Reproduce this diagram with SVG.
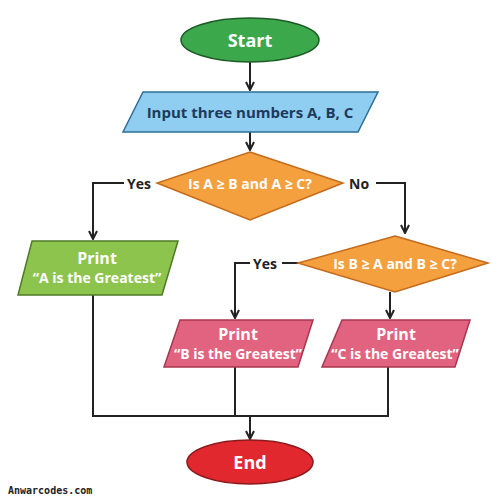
<svg xmlns="http://www.w3.org/2000/svg" width="500" height="500" viewBox="0 0 500 500">
<defs>
<marker id="arr" viewBox="0 0 10 10" refX="9" refY="5" markerWidth="10" markerHeight="10" markerUnits="userSpaceOnUse" orient="auto">
<path d="M1,1 L9,5 L1,9" fill="none" stroke="#222" stroke-width="2"/>
</marker>
<style>
.t{font-family:"Open Sans","Noto Sans","Liberation Sans",sans-serif;font-weight:700;text-anchor:middle;dominant-baseline:central}
.w{fill:#fff}
.ln{fill:none;stroke:#222;stroke-width:2}
.lbl{font-family:"Open Sans","Noto Sans","Liberation Sans",sans-serif;font-weight:700;font-size:14px;fill:#222;dominant-baseline:central}
</style>
</defs>
<rect width="500" height="500" fill="#fff"/>
<g id="connectors">
<line class="ln" x1="250" y1="62" x2="250" y2="90" marker-end="url(#arr)"/>
<line class="ln" x1="250" y1="132" x2="250" y2="150" marker-end="url(#arr)"/>
<polyline class="ln" points="124,183 93,183 93,239" marker-end="url(#arr)"/>
<polyline class="ln" points="376,183 405,183 405,233" marker-end="url(#arr)"/>
<polyline class="ln" points="250,263 235,263 235,318" marker-end="url(#arr)"/>
<line class="ln" x1="282" y1="263" x2="298" y2="263"/>
<line class="ln" x1="390" y1="292" x2="390" y2="318" marker-end="url(#arr)"/>
<polyline class="ln" points="93,295 93,416 388,416 388,367"/>
<line class="ln" x1="235" y1="367" x2="235" y2="416"/>
<line class="ln" x1="250" y1="416" x2="250" y2="439" marker-end="url(#arr)"/>
<text class="lbl" x="127" y="183">Yes</text>
<text class="lbl" x="349" y="183">No</text>
<text class="lbl" x="253" y="263">Yes</text>
</g>
<g id="start">
<ellipse cx="250" cy="40" rx="69" ry="22" fill="#3ba84b" stroke="#1e5a28" stroke-width="1.5"/>
<text class="t w" x="250" y="40" font-size="18">Start</text>
</g>
<g id="input">
<polygon points="143,92 378,92 358,132 123,132" fill="#8fcdf1" stroke="#2e6e98" stroke-width="1.5"/>
<text class="t" x="250" y="112" font-size="15" fill="#1d3a5c">Input three numbers A, B, C</text>
</g>
<g id="decision1">
<polygon points="250,152 343,183 250,220 157,183" fill="#f4a03f" stroke="#c56b1c" stroke-width="1.5"/>
<text class="t w" x="250" y="183" font-size="14">Is A ≥ B and A ≥ C?</text>
</g>
<g id="printA">
<polygon points="32,241 178,241 162,295 18,295" fill="#8dc44d" stroke="#4e7a26" stroke-width="1.5"/>
<text class="t w" x="97" y="258" font-size="16">Print</text>
<text class="t w" x="97" y="277" font-size="14">“A is the Greatest”</text>
</g>
<g id="decision2">
<polygon points="395,236 488,263 395,292 298,263" fill="#f4a03f" stroke="#c56b1c" stroke-width="1.5"/>
<text class="t w" x="395" y="263" font-size="14">Is B ≥ A and B ≥ C?</text>
</g>
<g id="printB">
<polygon points="180,320 313,320 298,367 164,367" fill="#e2637f" stroke="#a8364f" stroke-width="1.5"/>
<text class="t w" x="238" y="334" font-size="16">Print</text>
<text class="t w" x="238" y="353" font-size="14">“B is the Greatest”</text>
</g>
<g id="printC">
<polygon points="342,320 470,320 455,367 322,367" fill="#e2637f" stroke="#a8364f" stroke-width="1.5"/>
<text class="t w" x="396" y="334" font-size="16">Print</text>
<text class="t w" x="395" y="353" font-size="14">“C is the Greatest”</text>
</g>
<g id="end">
<ellipse cx="250" cy="462" rx="63" ry="22" fill="#e0282e" stroke="#8a1a1c" stroke-width="1.5"/>
<text class="t w" x="250" y="462" font-size="18">End</text>
</g>
<text x="8" y="490" font-family="'DejaVu Sans Mono','Liberation Mono',monospace" font-weight="700" font-size="10" fill="#222" dominant-baseline="central">Anwarcodes.com</text>
</svg>
